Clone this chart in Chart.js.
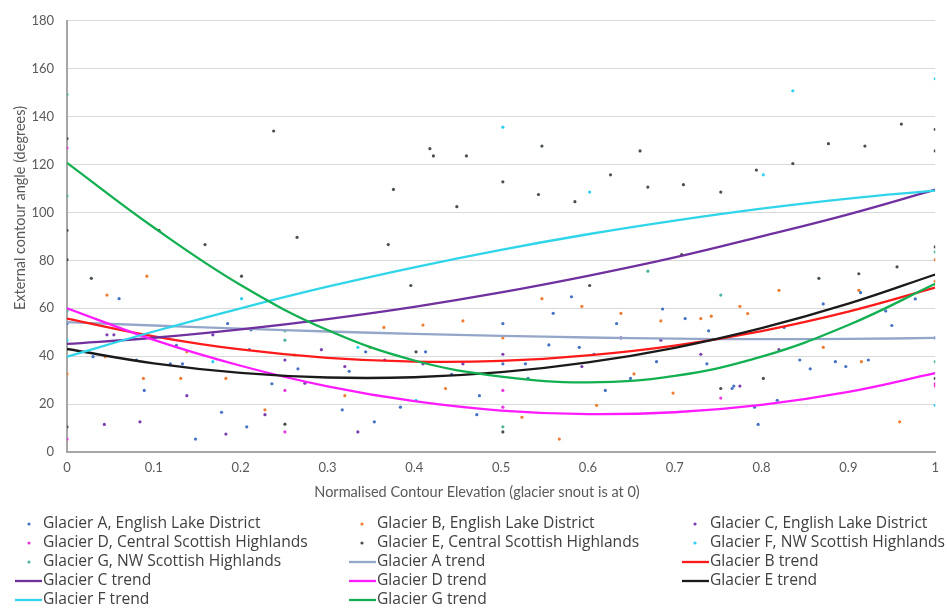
<!DOCTYPE html>
<html>
<head>
<meta charset="utf-8">
<script src="https://cdn.jsdelivr.net/npm/chart.js@4/dist/chart.umd.min.js"></script>
<style>
  html, body { margin: 0; padding: 0; background: #ffffff; }
  #wrap { width: 947px; height: 608px; position: relative; }
</style>
</head>
<body>
<div id="wrap"><canvas id="chart" width="947" height="608"></canvas></div>
<script>
// Measured contour angles: [normalised elevation, external angle in degrees]
const glacierA = [[0,53.6],[0.030,39.8],[0.060,64.0],[0.080,38.4],[0.089,25.7],[0.119,36.8],[0.126,44.5],[0.133,36.8],[0.148,5.4],[0.178,16.6],[0.185,53.6],[0.207,10.5],[0.210,42.7],[0.212,51.0],[0.236,28.5],[0.266,34.7],[0.317,17.6],[0.325,33.7],[0.344,41.8],[0.354,12.6],[0.384,18.7],[0.413,41.8],[0.443,32.4],[0.472,15.6],[0.475,23.5],[0.502,53.6],[0.502,36.8],[0.528,36.8],[0.531,30.7],[0.555,44.7],[0.560,57.9],[0.581,64.8],[0.590,43.7],[0.607,40.8],[0.620,25.7],[0.633,53.6],[0.649,30.7],[0.679,37.7],[0.686,59.7],[0.712,55.7],[0.737,36.8],[0.739,50.6],[0.766,26.5],[0.768,27.5],[0.792,18.7],[0.796,11.5],[0.818,21.6],[0.826,52.0],[0.844,38.4],[0.856,34.7],[0.871,61.8],[0.885,37.7],[0.897,35.7],[0.914,66.5],[0.923,38.4],[0.943,58.9],[0.950,52.8],[0.977,63.9],[1,47.6]];
const glacierB = [[0,32.6],[0.044,39.8],[0.046,65.5],[0.088,30.7],[0.092,73.4],[0.131,30.7],[0.138,41.8],[0.183,30.7],[0.228,17.6],[0.262,40.5],[0.320,23.5],[0.349,43.7],[0.365,52.0],[0.410,53.0],[0.436,26.5],[0.456,54.7],[0.502,47.6],[0.524,14.5],[0.547,64.0],[0.567,5.4],[0.593,60.8],[0.610,19.5],[0.638,57.9],[0.653,32.6],[0.684,54.7],[0.698,24.6],[0.730,55.7],[0.742,56.7],[0.775,60.8],[0.784,57.8],[0.820,67.5],[0.871,43.7],[0.912,67.5],[0.915,37.7],[0.959,12.6],[1,80.3],[1,71.3]];
const glacierC = [[0.043,11.5],[0.046,48.9],[0.054,48.9],[0.084,12.6],[0.138,23.5],[0.168,48.9],[0.183,7.5],[0.228,15.6],[0.251,38.4],[0.274,28.7],[0.293,42.7],[0.320,35.7],[0.335,8.4],[0.366,38.4],[0.410,36.8],[0.456,36.8],[0.502,40.8],[0.593,35.7],[0.638,47.6],[0.684,46.7],[0.730,40.8],[0.775,27.5],[0.820,42.7]];
const glacierD = [[0,126.9],[0,5.4],[0.251,25.7],[0.251,8.4],[0.502,25.7],[0.502,18.7],[0.753,22.5],[1,28.5],[1,27.5]];
const glacierE = [[0,130.8],[0,92.5],[0,80.3],[0,10.5],[0.028,72.5],[0.106,92.5],[0.159,86.6],[0.201,73.4],[0.238,134.0],[0.251,11.6],[0.265,89.6],[0.370,86.6],[0.376,109.6],[0.396,69.5],[0.402,41.8],[0.418,126.6],[0.422,123.6],[0.449,102.4],[0.460,123.6],[0.502,112.8],[0.502,8.4],[0.543,107.5],[0.547,127.7],[0.585,104.5],[0.602,69.5],[0.626,115.7],[0.660,125.7],[0.669,110.6],[0.708,82.4],[0.710,111.6],[0.753,108.5],[0.753,26.5],[0.794,117.7],[0.802,30.7],[0.836,120.4],[0.866,72.5],[0.877,128.7],[0.912,74.4],[0.919,127.7],[0.956,77.3],[0.961,136.9],[1,134.7],[1,125.7],[1,85.6],[1,30.7]];
const glacierF = [[0,46.7],[0.168,37.7],[0.201,64.0],[0.335,43.7],[0.402,21.6],[0.502,135.6],[0.602,108.5],[0.802,115.7],[0.836,150.8],[1,155.8],[1,19.5]];
const glacierG = [[0,149.2],[0,106.9],[0,58.9],[0.251,50.6],[0.251,46.7],[0.502,10.5],[0.669,75.5],[0.753,65.5],[1,83.5],[1,37.7]];

// Fitted trend curves, sampled every 0.1 of normalised elevation
const trendX = [0, 0.1, 0.2, 0.3, 0.4, 0.5, 0.6, 0.7, 0.8, 0.9, 1];
const trendA = [54.2, 52.8, 51.5, 50.3, 49.3, 48.5, 47.8, 47.3, 47.1, 47.2, 47.6];
const trendB = [55.7, 48.3, 42.8, 39.3, 37.7, 38.0, 40.3, 44.4, 50.5, 58.6, 68.6];
const trendC = [45.1, 47.7, 51.2, 55.5, 60.6, 66.6, 73.5, 81.2, 90.0, 99.2, 109.5];
const trendD = [60.0, 46.8, 36.0, 27.4, 21.2, 17.3, 15.8, 16.6, 19.7, 25.1, 32.9];
const trendE = [43.0, 37.0, 33.0, 31.1, 31.2, 33.3, 37.4, 43.5, 51.7, 61.9, 74.1];
const trendF = [39.8, 50.3, 60.0, 69.0, 77.1, 84.4, 90.9, 96.6, 101.6, 105.8, 109.1];
const trendG = [120.7, 93.7, 69.7, 50.9, 38.2, 31.5, 29.1, 31.8, 39.8, 53.0, 70.2];

const xTickLabels = ['0', '0.1', '0.2', '0.3', '0.4', '0.5', '0.6', '0.7', '0.8', '0.9', '1'];
const yTickLabels = ['0', '20', '40', '60', '80', '100', '120', '140', '160', '180'];

const seriesNames = [
  'Glacier A, English Lake District',
  'Glacier B, English Lake District',
  'Glacier C, English Lake District',
  'Glacier D, Central Scottish Highlands',
  'Glacier E, Central Scottish Highlands',
  'Glacier F, NW Scottish Highlands',
  'Glacier G, NW Scottish Highlands'
];
const trendNames = ['Glacier A trend', 'Glacier B trend', 'Glacier C trend', 'Glacier D trend', 'Glacier E trend', 'Glacier F trend', 'Glacier G trend'];

const pointColors = ['#4472C4', '#ED7D31', '#7A3DB0', '#E83AE0', '#48524A', '#2FD0F0', '#4FB39E'];
const trendColors = ['#94A7C9', '#FF1A1A', '#7030A0', '#FF1AFF', '#1A1A1A', '#30D5EA', '#12B050'];

const pointSets = [glacierA, glacierB, glacierC, glacierD, glacierE, glacierF, glacierG];
const trendSets = [trendA, trendB, trendC, trendD, trendE, trendF, trendG];

const FONT = 'Lato, "Open Sans", sans-serif';
const LEGEND_FONT = '"Open Sans", Lato, sans-serif';
const TEXT = '#404040';

const datasets = [];
pointSets.forEach((pts, i) => {
  datasets.push({
    label: seriesNames[i],
    data: pts.map(p => ({ x: p[0], y: p[1] })),
    backgroundColor: pointColors[i],
    borderColor: pointColors[i],
    borderWidth: 0,
    pointRadius: 1.6,
    showLine: false,
    order: 30 + i,
    isTrend: false
  });
});
trendSets.forEach((vals, i) => {
  datasets.push({
    label: trendNames[i],
    data: trendX.map((x, k) => ({ x: x, y: vals[k] })),
    borderColor: trendColors[i],
    backgroundColor: trendColors[i],
    borderWidth: 2.3,
    pointRadius: 0,
    showLine: true,
    tension: 0.4,
    order: 20 - i,
    isTrend: true
  });
});

// Axis titles and a three-column legend drawn under the plot
const annotations = {
  id: 'annotations',
  afterDraw(chart) {
    const ctx = chart.ctx;
    ctx.save();
    ctx.fillStyle = '#595959';
    ctx.font = '14.5px ' + FONT;
    ctx.textAlign = 'center';
    ctx.textBaseline = 'middle';
    ctx.fillText('Normalised Contour Elevation (glacier snout is at 0)', 477, 492);
    ctx.save();
    ctx.translate(20, 208);
    ctx.rotate(-Math.PI / 2);
    ctx.fillText('External contour angle (degrees)', 0, 0);
    ctx.restore();

    const lineStart = [15, 349, 682];
    const pointX = [29, 362, 695];
    const textX = [43, 377, 710];
    ctx.font = '15.6px ' + LEGEND_FONT;
    ctx.textAlign = 'left';
    chart.data.datasets.forEach((ds, i) => {
      const col = i % 3;
      const row = Math.floor(i / 3);
      const y = 524 + row * 19;
      if (ds.isTrend) {
        ctx.strokeStyle = ds.borderColor;
        ctx.lineWidth = 2.3;
        ctx.beginPath();
        ctx.moveTo(lineStart[col], y);
        ctx.lineTo(lineStart[col] + 27, y);
        ctx.stroke();
      } else {
        ctx.fillStyle = ds.backgroundColor;
        ctx.beginPath();
        ctx.arc(pointX[col], y, 1.6, 0, Math.PI * 2);
        ctx.fill();
      }
      ctx.fillStyle = TEXT;
      ctx.fillText(ds.label, textX[col], y);
    });
    ctx.restore();
  }
};

new Chart(document.getElementById('chart'), {
  type: 'scatter',
  data: { datasets: datasets },
  options: {
    responsive: false,
    animation: false,
    layout: { padding: { top: 18, right: 10, bottom: 106, left: 0 } },
    plugins: { legend: { display: false }, tooltip: { enabled: false } },
    scales: {
      x: {
        type: 'linear',
        min: 0,
        max: 1,
        afterFit(scale) { scale.height = 50; },
        ticks: {
          stepSize: 0.1,
          padding: 8,
          color: '#595959',
          font: { family: FONT, size: 13 },
          callback: (v, i) => xTickLabels[i]
        },
        grid: { display: false, drawTicks: false },
        border: { display: true, color: '#A6A6A6', width: 2 }
      },
      y: {
        min: 0,
        max: 180,
        afterFit(scale) { scale.width = 67; },
        ticks: {
          stepSize: 20,
          padding: 13,
          color: '#595959',
          font: { family: FONT, size: 13 },
          callback: (v, i) => yTickLabels[i]
        },
        grid: { color: '#D9D9D9', lineWidth: 1, drawTicks: false },
        border: { display: true, color: '#A6A6A6', width: 2 }
      }
    }
  },
  plugins: [annotations]
});
</script>
</body>
</html>
